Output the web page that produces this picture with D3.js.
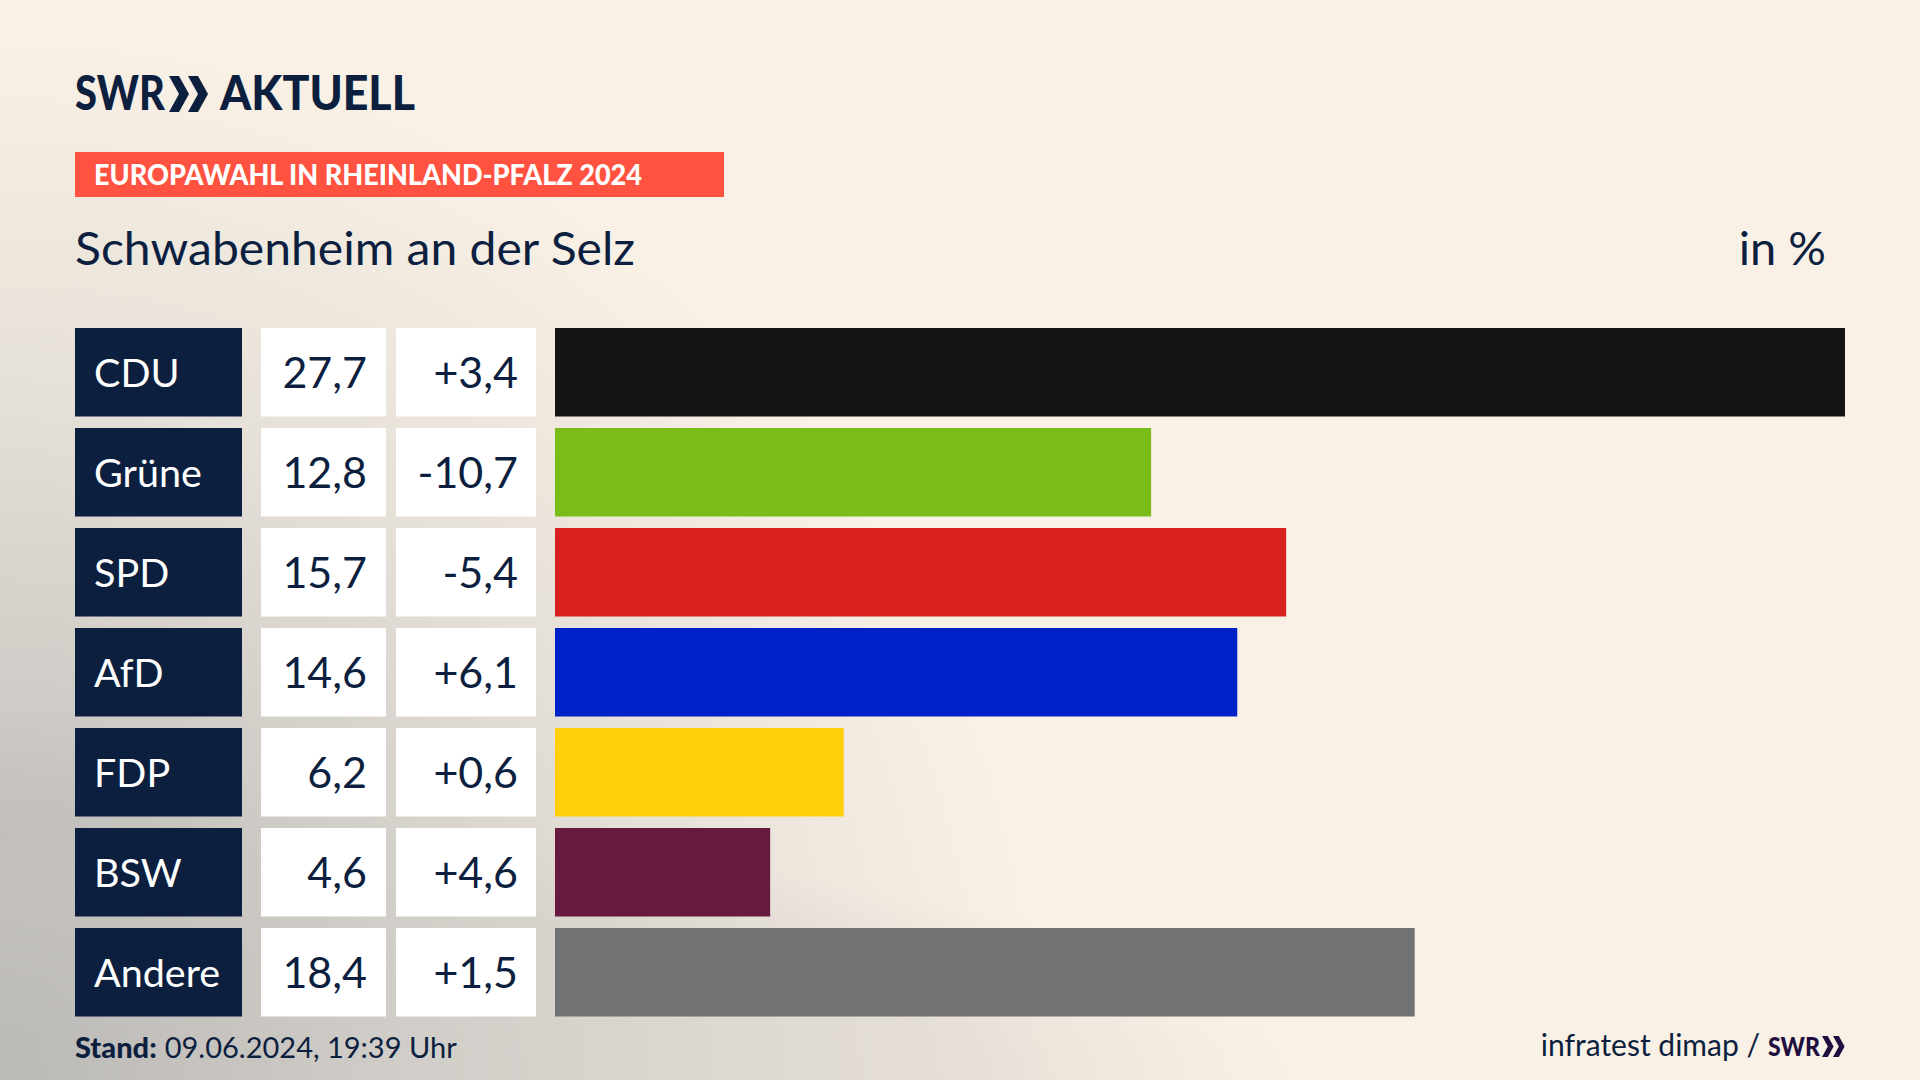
<!DOCTYPE html>
<html>
<head>
<meta charset="utf-8">
<title>Europawahl Schwabenheim an der Selz</title>
<script src="https://cdn.jsdelivr.net/npm/d3@7"></script>
<style>
    html, body { margin: 0; padding: 0; background: #faf1e6; overflow: hidden; }
    svg { display: block; }
    text { font-family: Lato, sans-serif; }
</style>
</head>
<body>
<div id="chart"></div>
<script>
// Data
const parties = ["CDU", "Grüne", "SPD", "AfD", "FDP", "BSW", "Andere"];
const shares = [27.7, 12.8, 15.7, 14.6, 6.2, 4.6, 18.4];
const changes = [3.4, -10.7, -5.4, 6.1, 0.6, 4.6, 1.5];
// Bar lengths measured in the picture: slightly off the rounded labels for some parties
const barLengths = [27.7, 12.8, 15.7, 14.65, 6.2, 4.62, 18.46];
const barColors = ["#141414", "#7abd19", "#d8201e", "#0021c8", "#ffcf0a", "#661a3d", "#717274"];

const width = 1920, height = 1080;
const navy = "#0c1f3f";
const cream = "#faf1e6";

const svg = d3.select("#chart").append("svg")
    .attr("width", width)
    .attr("height", height);

// Background: cream with grey shading coming in from the bottom left
const defs = svg.append("defs");
const shade = defs.append("radialGradient")
    .attr("id", "shade")
    .attr("gradientUnits", "userSpaceOnUse")
    .attr("cx", 0).attr("cy", 1080).attr("r", 1050);
shade.append("stop").attr("offset", "0").attr("stop-color", "#a6a7a7");
shade.append("stop").attr("offset", "0.36").attr("stop-color", "#cfcbc6");
shade.append("stop").attr("offset", "0.65").attr("stop-color", "#e5e0d8");
shade.append("stop").attr("offset", "1").attr("stop-color", cream);

// Second, flat ellipse: the grey runs further along the bottom edge
const band = defs.append("radialGradient")
    .attr("id", "band")
    .attr("gradientUnits", "userSpaceOnUse")
    .attr("cx", 0).attr("cy", 0).attr("r", 1)
    .attr("gradientTransform", "translate(0,1080) scale(1300,260)");
band.append("stop").attr("offset", "0").attr("stop-color", "#d0ccc7").attr("stop-opacity", 0.5);
band.append("stop").attr("offset", "0.75").attr("stop-color", "#d0ccc7").attr("stop-opacity", 0.42);
band.append("stop").attr("offset", "1").attr("stop-color", "#d0ccc7").attr("stop-opacity", 0);

svg.append("rect").attr("width", width).attr("height", height).attr("fill", "url(#shade)");
svg.append("rect").attr("width", width).attr("height", height).attr("fill", "url(#band)");

// Scales
const x = d3.scaleLinear().domain([0, d3.max(barLengths)]).range([555, 1845]);
const y = d3.scaleBand().domain(parties).range([328, 1016.5]).paddingInner(0.115).paddingOuter(0).align(0);

const fmt = v => v.toFixed(1).replace(".", ",");
const fmtChange = v => (v > 0 ? "+" : "") + fmt(v);

// Logo: two chevrons, used big in the header and small in the source line
function chevrons(g, s, color) {
    [0, 1].forEach(i => {
        const o = i * 19 * s;
        g.append("path")
            .attr("d", `M${o},0 L${o + 10 * s},0 L${o + 20 * s},${18 * s} L${o + 10 * s},${36 * s} L${o},${36 * s} L${o + 10 * s},${18 * s} Z`)
            .attr("fill", color);
    });
}

// Header
svg.append("text").attr("x", 75).attr("y", 110)
    .attr("font-size", 48).attr("font-weight", 900).attr("fill", navy).attr("textLength", 90)
    .attr("lengthAdjust", "spacingAndGlyphs").text("SWR");
chevrons(svg.append("g").attr("transform", "translate(169,76)"), 1, navy);
svg.append("text").attr("x", 220).attr("y", 110)
    .attr("font-size", 48).attr("font-weight", 900).attr("fill", navy).attr("textLength", 195)
    .attr("lengthAdjust", "spacingAndGlyphs").text("AKTUELL");

svg.append("rect").attr("x", 75).attr("y", 152).attr("width", 649).attr("height", 45).attr("fill", "#ff5240");
svg.append("text").attr("x", 94).attr("y", 185)
    .attr("font-size", 28).attr("font-weight", 900).attr("fill", "#fff").attr("textLength", 548)
    .attr("lengthAdjust", "spacingAndGlyphs").text("EUROPAWAHL IN RHEINLAND-PFALZ 2024");

svg.append("text").attr("x", 75).attr("y", 265)
    .attr("font-size", 47).attr("fill", navy).attr("textLength", 560)
    .attr("lengthAdjust", "spacingAndGlyphs").text("Schwabenheim an der Selz");
svg.append("text").attr("x", 1826).attr("y", 265).attr("text-anchor", "end")
    .attr("font-size", 47).attr("fill", navy).text("in %");

// Rows
const rows = svg.selectAll("g.row")
    .data(parties.map((p, i) => ({ party: p, share: shares[i], change: changes[i], bar: barLengths[i], color: barColors[i] })))
    .enter().append("g")
    .attr("class", "row")
    .attr("transform", d => "translate(0," + y(d.party) + ")");

const h = y.bandwidth();

rows.append("rect").attr("x", 75).attr("width", 167).attr("height", h).attr("fill", navy);
rows.append("rect").attr("x", 261).attr("width", 125).attr("height", h).attr("fill", "#fff");
rows.append("rect").attr("x", 396).attr("width", 140).attr("height", h).attr("fill", "#fff");
rows.append("rect")
    .attr("x", x(0))
    .attr("width", d => x(d.bar) - x(0))
    .attr("height", h)
    .attr("fill", d => d.color);

rows.append("text").attr("x", 94).attr("y", h / 2 + 14.5)
    .attr("font-size", 39.5).attr("fill", "#fff").text(d => d.party);
rows.append("text").attr("x", 367).attr("y", h / 2 + 15.5).attr("text-anchor", "end")
    .attr("font-size", 43).attr("fill", navy).text(d => fmt(d.share));
rows.append("text").attr("x", 518).attr("y", h / 2 + 15.5).attr("text-anchor", "end")
    .attr("font-size", 43).attr("fill", navy).text(d => fmtChange(d.change));

// Footer
const stand = svg.append("text").attr("x", 75).attr("y", 1058).attr("font-size", 29).attr("fill", navy);
stand.append("tspan").attr("font-weight", 900).text("Stand:");
stand.append("tspan").attr("dx", 8).text("09.06.2024, 19:39 Uhr");

svg.append("text").attr("x", 1760).attr("y", 1056).attr("text-anchor", "end")
    .attr("font-size", 30).attr("fill", navy).text("infratest dimap /");
svg.append("text").attr("x", 1768).attr("y", 1056)
    .attr("font-size", 27).attr("font-weight", 900).attr("fill", "#1e0f40").attr("textLength", 52)
    .attr("lengthAdjust", "spacingAndGlyphs").text("SWR");
chevrons(svg.append("g").attr("transform", "translate(1822,1036)"), 0.58, "#1e0f40");
</script>
</body>
</html>
